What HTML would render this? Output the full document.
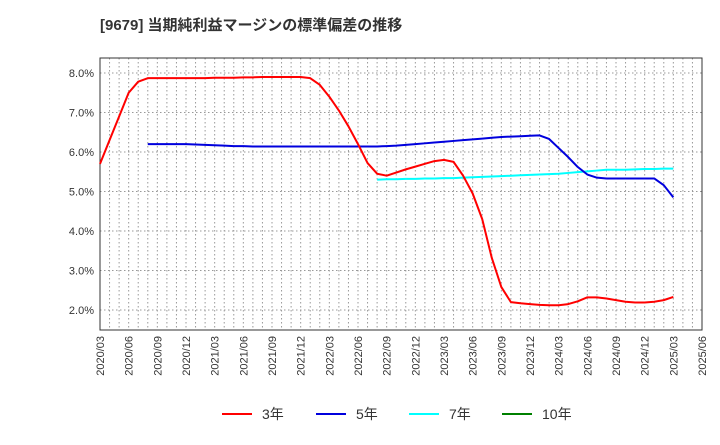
<!DOCTYPE html>
<html><head><meta charset="utf-8"><style>
body{margin:0;background:#fff;font-family:"Liberation Sans","Noto Sans CJK JP",sans-serif}
svg text{font-family:"Liberation Sans","Noto Sans CJK JP",sans-serif}
</style></head><body>
<svg id="c" width="720" height="440" xmlns="http://www.w3.org/2000/svg">
<text x="100" y="30" font-size="15" font-weight="bold" fill="#333">[9679]  当期純利益マージンの標準偏差の推移</text>
<g id="grid"></g><g id="ax"></g><g id="series"></g>
<g font-size="14" fill="#333">
<g><line x1="222" y1="414" x2="252" y2="414" stroke="#ff0000" stroke-width="2"/><text x="262" y="419">3年</text></g>
<g><line x1="316" y1="414" x2="346" y2="414" stroke="#0000dd" stroke-width="2"/><text x="356" y="419">5年</text></g>
<g><line x1="409" y1="414" x2="439" y2="414" stroke="#00ffff" stroke-width="2"/><text x="449" y="419">7年</text></g>
<g><line x1="502" y1="414" x2="532" y2="414" stroke="#008000" stroke-width="2"/><text x="542" y="419">10年</text></g>
</g>
</svg>
<script>
const xLabels=["2020/03","2020/06","2020/09","2020/12","2021/03","2021/06","2021/09","2021/12","2022/03","2022/06","2022/09","2022/12","2023/03","2023/06","2023/09","2023/12","2024/03","2024/06","2024/09","2024/12","2025/03","2025/06"];
const yTicks=[2,3,4,5,6,7,8];
const red3Start=0;
const red3=[5.7,6.3,6.9,7.5,7.78,7.87,7.87,7.87,7.87,7.87,7.87,7.87,7.88,7.88,7.88,7.89,7.89,7.9,7.9,7.9,7.9,7.9,7.87,7.7,7.4,7.05,6.65,6.2,5.72,5.45,5.4,5.48,5.56,5.63,5.7,5.77,5.8,5.75,5.4,4.95,4.3,3.32,2.58,2.2,2.17,2.15,2.13,2.12,2.12,2.15,2.22,2.32,2.32,2.29,2.25,2.21,2.19,2.19,2.21,2.25,2.33];
const blue5Start=5;
const blue5=[6.2,6.2,6.2,6.2,6.2,6.19,6.18,6.17,6.16,6.15,6.15,6.14,6.14,6.14,6.14,6.14,6.14,6.14,6.14,6.14,6.14,6.14,6.14,6.14,6.14,6.15,6.16,6.18,6.2,6.22,6.24,6.26,6.28,6.3,6.32,6.34,6.36,6.38,6.39,6.4,6.41,6.42,6.33,6.1,5.87,5.62,5.43,5.35,5.33,5.33,5.33,5.33,5.33,5.33,5.16,4.85];
const cyan7Start=29;
const cyan7=[5.3,5.31,5.31,5.32,5.32,5.33,5.33,5.34,5.34,5.35,5.36,5.37,5.38,5.39,5.4,5.41,5.42,5.43,5.44,5.45,5.47,5.49,5.51,5.53,5.55,5.55,5.55,5.56,5.57,5.57,5.58,5.58];
const X0=100,X1=702,Y0=58,Y1=330,months=63;
const xs=m=>X0+m*(X1-X0)/months;
const ys=v=>310-(v-2)*39.5;
const NS="http://www.w3.org/2000/svg";
function mk(t,a,p){const e=document.createElementNS(NS,t);for(const k in a)e.setAttribute(k,a[k]);p.appendChild(e);return e;}
const grid=document.getElementById('grid'),ax=document.getElementById('ax'),ser=document.getElementById('series');
for(let m=1;m<months;m++){const l=mk('line',{x1:xs(m),x2:xs(m),y1:Y0,y2:Y1,stroke:'#999','stroke-dasharray':'1.5,2.5','stroke-width':1},grid);

}
yTicks.forEach(v=>{const l=mk('line',{x1:X0,x2:X1,y1:ys(v),y2:ys(v),stroke:'#999','stroke-dasharray':'1.5,2.5'},grid);


const t=mk('text',{x:X0-6,y:ys(v)+4,'text-anchor':'end','font-size':11,fill:'#333'},ax);t.textContent=v.toFixed(1)+'%';

});
const fr=mk('rect',{x:X0,y:Y0,width:X1-X0,height:Y1-Y0,fill:'none',stroke:'#333'},ax);


xLabels.forEach((s,i)=>{const x=xs(i*3);const t=mk('text',{x:x+4,y:Y1+6,'text-anchor':'end','font-size':11,fill:'#333',transform:`rotate(-90 ${x+4} ${Y1+6})`},ax);t.textContent=s;

});
function line(arr,start,col,name){const p=mk('polyline',{points:arr.map((v,i)=>xs(start+i)+','+ys(v)).join(' '),fill:'none',stroke:col,'stroke-width':2,'stroke-linejoin':'round'},ser);

}
line(cyan7,cyan7Start,'#00ffff','series-7y');
line(blue5,blue5Start,'#0000dd','series-5y');
line(red3,red3Start,'#ff0000','series-3y');
</script>
</body></html>
